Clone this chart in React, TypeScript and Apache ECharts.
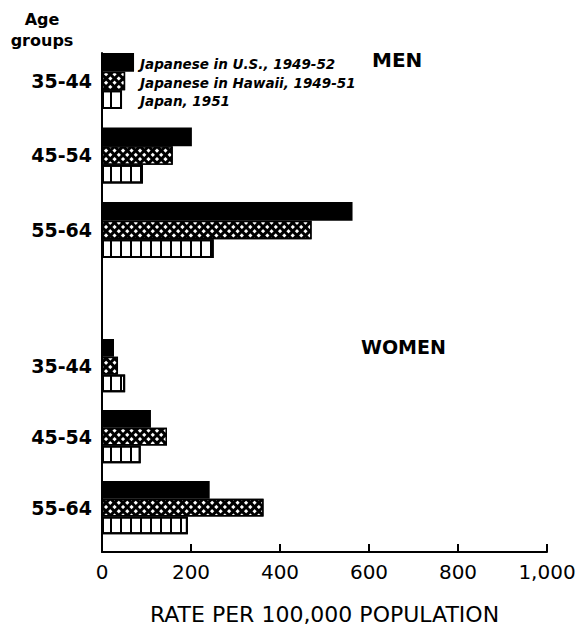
import React, { useEffect, useRef } from "react";
import * as echarts from "echarts";

const ageGroups = ["35-44", "45-54", "55-64"];
const seriesNames = ["Japanese in U.S., 1949-52", "Japanese in Hawaii, 1949-51", "Japan, 1951"];
const menUS = [72, 202, 563];
const menHawaii = [52, 159, 471];
const menJapan = [45, 92, 251];
const womenUS = [27, 110, 242];
const womenHawaii = [36, 146, 363];
const womenJapan = [52, 87, 193];
const xTicks = [0, 200, 400, 600, 800, 1000];
const xTickLabels = ["0", "200", "400", "600", "800", "1,000"];

// layout on the row (category) axes: one grid for men, one for women
const MEN_ROWS = 12;
const menStartRows = [0, 4, 8];
const WOMEN_ROWS = 16;
const womenStartRows = [4, 8, 12];

const FONT = "DejaVu Sans";

export default function App() {
  const ref = useRef<HTMLDivElement>(null);
  useEffect(() => {
    document.body.style.margin = "0";
    const chart = echarts.init(ref.current!, null, { renderer: "svg" });

    const build = (count: number, starts: number[], vals: number[][]) => {
      const rows = Array.from({ length: count }, (_, i) => "r" + i);
      const labels: Record<number, string> = {};
      ageGroups.forEach((g, i) => (labels[starts[i] + 1] = g));
      const data = [0, 1, 2].map((k) => {
        const d: (number | string)[] = Array(count).fill("-");
        ageGroups.forEach((_, i) => (d[starts[i] + k] = vals[k][i]));
        return d;
      });
      return { rows, labels, data };
    };
    const menB = build(MEN_ROWS, menStartRows, [menUS, menHawaii, menJapan]);
    const womenB = build(WOMEN_ROWS, womenStartRows, [womenUS, womenHawaii, womenJapan]);

    const styles = [
      { color: "#000", borderColor: "#000", borderWidth: 0 },
      {
        color: "#000",
        borderColor: "#000",
        borderWidth: 1.5,
        decal: {
          color: "#fff",
          symbol: "rect",
          symbolSize: 1,
          dashArrayX: [3, 2.6],
          dashArrayY: [3, 2.6],
          rotation: Math.PI / 4,
        },
      },
      {
        color: "#fff",
        borderColor: "#000",
        borderWidth: 2,
        decal: {
          color: "#000",
          symbol: "rect",
          symbolSize: 1,
          dashArrayX: [2, 7.5],
          dashArrayY: [9, 0],
        },
      },
    ];

    const xBase = {
      type: "value",
      min: xTicks[0],
      max: xTicks[xTicks.length - 1],
      interval: xTicks[1] - xTicks[0],
      splitLine: { show: false },
    };
    const yBase = (rows: string[], labels: Record<number, string>, gridIndex: number) => ({
      type: "category",
      gridIndex,
      data: rows,
      inverse: true,
      axisLine: { show: true, lineStyle: { color: "#000", width: 2 } },
      axisTick: { show: false },
      splitLine: { show: false },
      axisLabel: {
        interval: 0,
        color: "#000",
        fontSize: 19,
        fontWeight: "bold",
        fontFamily: FONT,
        margin: 10,
        formatter: (_v: string, idx: number) => labels[idx] || "",
      },
    });

    const mkSeries = (b: { data: (number | string)[][] }, gi: number) =>
      [0, 1, 2].map((k) => ({
        type: "bar",
        name: seriesNames[k],
        xAxisIndex: gi,
        yAxisIndex: gi,
        data: b.data[k],
        barGap: "-100%",
        barCategoryGap: "0%",
        itemStyle: styles[k],
        z: 2 + k,
      }));

    const option: any = {
      animation: false,
      backgroundColor: "#fff",
      textStyle: { fontFamily: FONT },
      grid: [
        { left: 102, right: 33, top: 53, height: 223.5 },
        { left: 102, right: 33, top: 268, bottom: 68 },
      ],
      xAxis: [
        { ...xBase, gridIndex: 0, show: false },
        {
          ...xBase,
          gridIndex: 1,
          name: "RATE PER 100,000 POPULATION",
          nameLocation: "middle",
          nameGap: 51,
          nameTextStyle: { fontSize: 22, color: "#000", fontFamily: FONT },
          axisLine: { show: true, lineStyle: { color: "#000", width: 2 } },
          axisTick: { show: true, inside: true, length: 8, lineStyle: { color: "#000", width: 2 } },
          axisLabel: {
            color: "#000",
            fontSize: 20,
            fontFamily: FONT,
            margin: 10,
            formatter: (v: number) => xTickLabels[xTicks.indexOf(v)] ?? String(v),
          },
        },
      ],
      yAxis: [yBase(menB.rows, menB.labels, 0), yBase(womenB.rows, womenB.labels, 1)],
      series: [...mkSeries(menB, 0), ...mkSeries(womenB, 1)],
      graphic: [
        {
          type: "text",
          x: 42,
          y: 9,
          style: {
            text: "Age\ngroups",
            fontFamily: FONT,
            fontSize: 16,
            fontWeight: "bold",
            fill: "#000",
            align: "center",
            lineHeight: 21,
          },
        },
        ...seriesNames.map((n, k) => ({
          type: "text",
          x: 140,
          y: 57 + k * 18.5,
          style: {
            text: n,
            fontFamily: FONT,
            fontSize: 13.5,
            fontWeight: "bold",
            fontStyle: "italic",
            fill: "#000",
          },
        })),
        {
          type: "text",
          x: 372,
          y: 50,
          style: { text: "MEN", fontFamily: FONT, fontSize: 20, fontWeight: "bold", fill: "#000" },
        },
        {
          type: "text",
          x: 361,
          y: 337,
          style: { text: "WOMEN", fontFamily: FONT, fontSize: 19, fontWeight: "bold", fill: "#000" },
        },
      ],
    };
    chart.setOption(option);
    return () => chart.dispose();
  }, []);
  return <div ref={ref} style={{ width: 580, height: 626 }} />;
}
